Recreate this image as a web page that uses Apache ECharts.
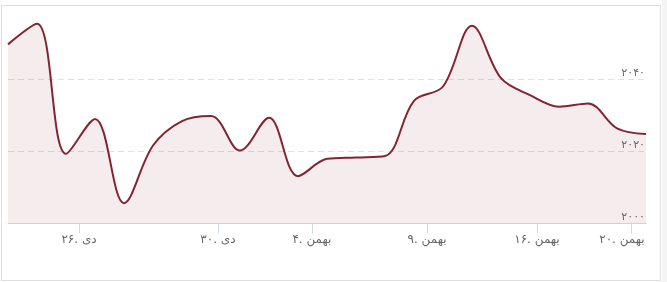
<!DOCTYPE html>
<html>
<head>
<meta charset="utf-8">
<script src="https://cdn.jsdelivr.net/npm/echarts@6/dist/echarts.min.js"></script>
<style>
html,body{margin:0;padding:0;background:#fff;width:667px;height:282px;overflow:hidden;}
#card{position:absolute;left:1px;top:5px;width:660px;height:276px;border:1px solid #dedede;box-sizing:border-box;}
#strip{position:absolute;left:662px;top:0;width:5px;height:282px;background:#f4f4f4;}
#chart{position:absolute;left:0;top:0;width:667px;height:282px;}
</style>
</head>
<body>
<div id="card"></div>
<div id="strip"></div>
<div id="chart"></div>
<script>
// series values, one per trading session (ordinal index 0..22)
const values = [2049.7, 2055.4, 2019.3, 2029.0, 2005.6, 2021.6, 2028.4, 2029.8, 2020.2, 2029.3, 2013.1, 2017.9, 2018.3, 2018.7, 2034.0, 2038.0, 2054.9, 2040.3, 2035.6, 2032.4, 2033.3, 2026.4, 2024.8];
// date tick labels and their ordinal positions
const tickLabels = ['۲۶. دی', '۳۰. دی', '۴. بهمن', '۹. بهمن', '۱۶. بهمن', '۲۰. بهمن'];
const tickPositions = [2.45, 7.24, 10.48, 14.45, 18.24, 21.48];
// y tick labels
const yTicks = [2000, 2020, 2040];
const yTickLabels = ['۲۰۰۰', '۲۰۲۰', '۲۰۴۰'];

const chart = echarts.init(document.getElementById('chart'), null, {renderer: 'canvas'});
const seriesData = values.map((v, i) => [i, v]);
const font = '"DejaVu Sans", sans-serif';
chart.setOption({
  animation: false,
  grid: {left: 8, right: 21, top: 7.3, bottom: 58.7},
  xAxis: {
    type: 'value', min: 0, max: values.length - 1,
    axisLine: {show: true, lineStyle: {color: '#ccd6eb', width: 1}},
    axisTick: {show: true, customValues: tickPositions, length: 10, lineStyle: {color: '#ccd6eb'}},
    axisLabel: {
      customValues: tickPositions, color: '#666', fontSize: 12, fontFamily: font, margin: 11,
      formatter: v => {
        let best = 0;
        tickPositions.forEach((p, i) => { if (Math.abs(p - v) < Math.abs(tickPositions[best] - v)) best = i; });
        return best === tickLabels.length - 1 ? '{last|' + tickLabels[best] + '}' : tickLabels[best];
      },
      rich: {last: {color: '#666', fontSize: 12, fontFamily: font, padding: [0, 18, 0, 0]}}
    },
    splitLine: {show: false}
  },
  yAxis: {
    type: 'value', position: 'right', min: 2000, max: 2060, interval: 20,
    axisLine: {show: false}, axisTick: {show: false},
    axisLabel: {
      inside: true, margin: 1, color: '#666', fontSize: 11, fontFamily: font,
      verticalAlign: 'bottom', padding: [0, 0, 1, 0], showMaxLabel: false,
      formatter: v => { const i = yTicks.indexOf(v); return i >= 0 ? yTickLabels[i] : ''; }
    },
    splitLine: {show: true, showMinLine: false, showMaxLine: false, lineStyle: {color: '#e0e0e0', type: [6, 4], width: 1}}
  },
  series: [{
    type: 'line', data: seriesData, smooth: 0.35, showSymbol: false,
    lineStyle: {color: '#832432', width: 2},
    itemStyle: {color: '#832432'},
    areaStyle: {origin: 'start', color: 'rgba(131,36,50,0.12)'}
  }]
});
</script>
</body>
</html>
